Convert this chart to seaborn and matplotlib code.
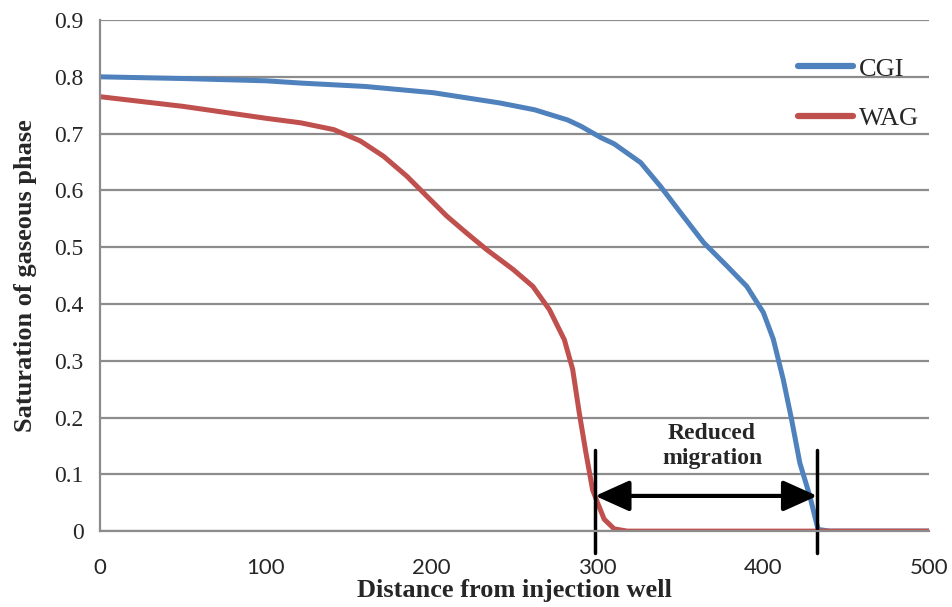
import numpy as np
import pandas as pd
import matplotlib
matplotlib.use("Agg")
import matplotlib.pyplot as plt
import seaborn as sns

cgi_x = [0, 50, 100, 121, 160, 201, 241, 262, 282, 290, 302, 310, 326, 338, 350, 364, 378, 390, 400, 406, 412, 417, 422, 428, 433, 440, 500]
cgi_y = [0.800, 0.797, 0.793, 0.789, 0.783, 0.772, 0.754, 0.742, 0.724, 0.713, 0.693, 0.682, 0.649, 0.607, 0.561, 0.508, 0.467, 0.431, 0.385, 0.338, 0.267, 0.197, 0.120, 0.062, 0.003, 0.0, 0.0]

wag_x = [0, 50, 100, 121, 141, 157, 171, 185, 197, 209, 221, 233, 249, 261, 271, 280, 285, 289, 293, 297, 300, 304, 310, 318, 400, 500]
wag_y = [0.765, 0.748, 0.727, 0.719, 0.707, 0.687, 0.660, 0.625, 0.590, 0.555, 0.525, 0.496, 0.461, 0.431, 0.390, 0.337, 0.285, 0.208, 0.138, 0.073, 0.050, 0.021, 0.004, 0.0, 0.0, 0.0]

series_names = ["CGI", "WAG"]
colors = ["#4F81BD", "#C0504D"]
x_ticks = [0, 100, 200, 300, 400, 500]
y_ticks = [0, 0.1, 0.2, 0.3, 0.4, 0.5, 0.6, 0.7, 0.8, 0.9]
y_tick_labels = ["0", "0.1", "0.2", "0.3", "0.4", "0.5", "0.6", "0.7", "0.8", "0.9"]

arrow_start, arrow_end, arrow_y = 298.6, 432.5, 0.062
bar_bottom, bar_top = -0.038, 0.142
annotation_text = "Reduced\nmigration"

df = pd.concat([
    pd.DataFrame({"x": cgi_x, "y": cgi_y, "series": "CGI"}),
    pd.DataFrame({"x": wag_x, "y": wag_y, "series": "WAG"}),
])

sns.set_style("white")
serif = ["Liberation Serif", "DejaVu Serif"]

fig = plt.figure(figsize=(9.53, 6.07), dpi=100)
ax = fig.add_axes([0.105, 0.125, 0.87, 0.842])

sns.lineplot(data=df, x="x", y="y", hue="series", hue_order=series_names,
             palette=colors, linewidth=3.6, ax=ax, estimator=None, sort=False,
             legend=True)
for ln in ax.lines:
    ln.set_solid_capstyle("round")
    ln.set_solid_joinstyle("round")

ax.set_xlim(0, 500)
ax.set_ylim(0, 0.9)
ax.set_xticks(x_ticks)
ax.set_yticks(y_ticks)
ax.set_yticklabels(y_tick_labels, fontfamily=serif, fontsize=17)
ax.set_xticklabels([str(t) for t in x_ticks], fontfamily=["Lato", "DejaVu Sans"], fontsize=16)

ax.yaxis.grid(True, color="#8c8c8c", linewidth=1.6)
ax.set_axisbelow(True)
for s in ["top", "right"]:
    ax.spines[s].set_visible(False)
for s in ["left", "bottom"]:
    ax.spines[s].set_color("#8c8c8c")
    ax.spines[s].set_linewidth(1.6)
ax.tick_params(axis="both", direction="out", length=6, width=1.6, color="#8c8c8c")
ax.tick_params(axis="x", pad=13)
ax.tick_params(axis="y", pad=6)

ax.set_xlabel("Distance from injection well", fontfamily=serif, fontweight="bold",
              fontsize=19, labelpad=1)
ax.set_ylabel("Saturation of gaseous phase", fontfamily=serif, fontweight="bold",
              fontsize=19, labelpad=12)

leg = ax.legend(loc="upper right", frameon=False, prop={"family": serif, "size": 19},
                handlelength=2.1, handletextpad=0.2, labelspacing=1.0,
                bbox_to_anchor=(1.0, 0.948), borderaxespad=0.0)
for h in leg.get_lines():
    h.set_linewidth(4.5)

# vertical bars and double arrow
for xv in [arrow_start, arrow_end]:
    ax.plot([xv, xv], [bar_bottom, bar_top], color="black", linewidth=2.5, clip_on=False)
ax.annotate("", xy=(arrow_start, arrow_y), xytext=(arrow_end, arrow_y),
            arrowprops=dict(arrowstyle="<|-|>,head_length=1.0,head_width=0.45", color="black", lw=3,
                            mutation_scale=21, shrinkA=0, shrinkB=0))
ax.text(369, 0.15, annotation_text, ha="center", va="center",
        fontfamily=serif, fontweight="bold", fontsize=17, linespacing=1.25)

fig.savefig("out.png", dpi=100)
